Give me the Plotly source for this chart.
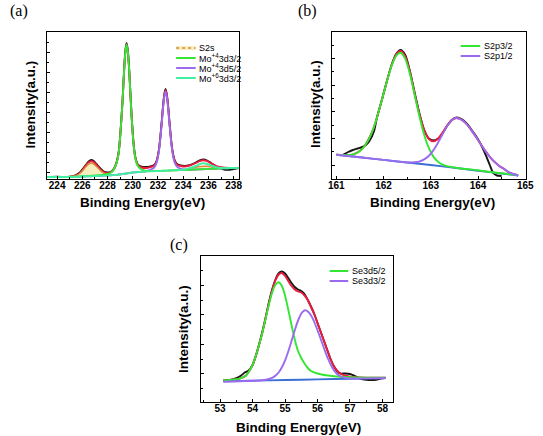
import plotly.graph_objects as go

W, H = 543, 436

# ---------------- Panel (a): Mo 3d / S 2s region ----------------
a_x = [223.2, 224.0, 224.8, 225.2, 225.5, 225.8, 226.0, 226.3, 226.5, 226.7,
       226.9, 227.1, 227.4, 227.7, 228.0, 228.2, 228.4, 228.6, 228.8, 228.9,
       229.0, 229.1, 229.2, 229.3, 229.4, 229.5, 229.6, 229.7, 229.8, 229.9,
       230.0, 230.1, 230.2, 230.4, 230.7, 231.0, 231.2, 231.4, 231.7, 231.9,
       232.0, 232.1, 232.2, 232.3, 232.4, 232.5, 232.6, 232.7, 232.8, 232.9,
       233.0, 233.1, 233.2, 233.3, 233.5, 233.8, 234.1, 234.5, 235.0, 235.3,
       235.6, 235.9, 236.2, 236.6, 237.0, 237.3, 237.7, 238.0, 238.4]
a_background = [2.0, 2.0, 2.0, 2.1, 2.2, 2.4, 2.5, 2.6, 2.7, 2.8,
                2.9, 3.0, 3.2, 3.35, 3.5, 3.7, 3.9, 4.1, 4.3, 4.45,
                4.6, 4.8, 5.0, 5.2, 5.35, 5.5, 5.7, 5.9, 6.1, 6.3,
                6.5, 6.6, 6.7, 6.9, 7.2, 7.5, 7.6, 7.7, 7.85, 7.95,
                8.0, 8.05, 8.1, 8.15, 8.2, 8.25, 8.3, 8.35, 8.4, 8.45,
                8.5, 8.55, 8.6, 8.65, 8.75, 8.9, 9.05, 9.25, 9.5, 9.65,
                9.8, 9.95, 10.1, 10.3, 10.5, 10.65, 10.85, 11.0, 11.0]
a_s2s = [2.0, 2.0, 2.1, 2.4, 3.3, 5.5, 8.0, 12.5, 15.0, 16.0,
         15.0, 12.8, 9.0, 5.8, 4.2, 3.8, 3.9, 4.1, 4.3, 4.45,
         4.6, 4.8, 5.0, 5.2, 5.35, 5.5, 5.7, 5.9, 6.1, 6.3,
         6.5, 6.6, 6.7, 6.9, 7.2, 7.5, 7.6, 7.7, 7.85, 7.95,
         8.0, 8.05, 8.1, 8.15, 8.2, 8.25, 8.3, 8.35, 8.4, 8.45,
         8.5, 8.55, 8.6, 8.65, 8.75, 8.9, 9.4, 10.3, 11.7, 12.4,
         12.8, 12.7, 12.2, 11.3, 10.8, 10.7, 10.85, 11.0, 11.0]
a_mo4_3d32 = [2.0, 2.0, 2.1, 2.2, 2.3, 2.5, 2.7, 2.9, 3.0, 3.2,
              3.4, 3.6, 3.9, 4.3, 5.0, 6.0, 8.0, 12.0, 20.0, 28.0,
              42.0, 60.0, 80.0, 105.0, 125.0, 134.5, 128.0, 112.0, 88.0, 64.0,
              44.5, 30.0, 21.0, 13.0, 9.5, 8.3, 8.0, 7.9, 7.95, 8.0,
              8.05, 8.1, 8.15, 8.2, 8.25, 8.3, 8.35, 8.4, 8.45, 8.5,
              8.55, 8.6, 8.65, 8.7, 8.8, 8.95, 9.1, 9.3, 9.55, 9.7,
              9.85, 10.0, 10.15, 10.35, 10.55, 10.7, 10.9, 11.0, 11.0]
a_mo4_3d52 = [2.0, 2.0, 2.0, 2.1, 2.2, 2.4, 2.5, 2.6, 2.7, 2.8,
              2.9, 3.0, 3.2, 3.35, 3.5, 3.7, 3.9, 4.1, 4.3, 4.45,
              4.6, 4.8, 5.0, 5.2, 5.35, 5.5, 5.7, 5.9, 6.1, 6.3,
              6.5, 6.6, 6.7, 6.9, 7.3, 7.8, 8.4, 9.3, 11.4, 16.5,
              22.0, 30.0, 42.0, 56.0, 71.0, 82.0, 87.3, 82.4, 71.4, 56.5,
              42.5, 30.5, 22.6, 17.2, 12.3, 10.1, 9.4, 9.3, 9.5, 9.65,
              9.8, 9.95, 10.1, 10.3, 10.5, 10.65, 10.85, 11.0, 11.0]
a_mo6_3d32 = [2.0, 2.0, 2.0, 2.1, 2.2, 2.4, 2.5, 2.6, 2.7, 2.8,
              2.9, 3.0, 3.2, 3.35, 3.5, 3.7, 3.9, 4.1, 4.3, 4.45,
              4.6, 4.8, 5.0, 5.2, 5.35, 5.5, 5.7, 5.9, 6.1, 6.3,
              6.5, 6.6, 6.7, 6.9, 7.2, 7.5, 7.6, 7.7, 7.85, 7.95,
              8.0, 8.05, 8.1, 8.15, 8.2, 8.25, 8.3, 8.35, 8.4, 8.45,
              8.5, 8.55, 8.6, 8.65, 8.8, 9.0, 9.5, 10.8, 13.0, 14.8,
              15.8, 15.0, 13.5, 11.8, 11.0, 10.9, 10.95, 11.0, 11.0]
a_envelope = [2.0, 2.0, 2.1, 2.5, 3.5, 5.8, 8.3, 14.0, 16.5, 17.8,
              17.0, 14.5, 9.9, 7.0, 5.9, 6.3, 8.2, 12.2, 20.2, 28.2,
              42.2, 60.2, 80.2, 105.2, 125.2, 134.7, 128.2, 112.2, 88.2, 64.2,
              44.7, 30.2, 21.5, 13.8, 11.5, 11.0, 11.2, 11.8, 13.5, 18.0,
              23.5, 31.5, 43.5, 57.5, 72.5, 83.5, 88.8, 83.8, 72.8, 58.0,
              44.0, 32.0, 24.2, 19.0, 14.3, 13.0, 12.5, 13.5, 16.0, 17.8,
              18.7, 17.8, 15.8, 13.2, 11.8, 11.2, 11.0, 11.0, 11.0]
a_measured = [2.0, 2.3, 2.0, 2.6, 4.0, 6.5, 9.3, 14.5, 17.5, 19.0,
              18.0, 15.3, 11.0, 7.5, 6.5, 6.8, 8.5, 12.5, 21.0, 29.0,
              43.0, 61.0, 81.0, 106.0, 126.5, 136.0, 129.5, 113.0, 89.0, 65.0,
              45.5, 31.0, 22.0, 14.5, 12.3, 12.0, 12.0, 12.5, 14.0, 18.5,
              24.0, 32.0, 44.0, 58.0, 73.0, 84.5, 90.0, 84.5, 73.5, 58.5,
              44.5, 32.5, 24.5, 19.5, 15.0, 13.5, 13.0, 13.8, 16.5, 18.5,
              19.5, 18.5, 16.0, 12.5, 10.5, 9.3, 9.2, 10.0, 11.0]

# ---------------- Panel (b): S 2p region ----------------
b_measured_x = [161.15, 161.25, 161.35, 161.45, 161.55, 161.62, 161.7, 161.8, 161.86, 161.96,
                162.06, 162.16, 162.26, 162.36, 162.46, 162.56, 162.66, 162.76, 162.86, 162.96,
                163.06, 163.16, 163.26, 163.36, 163.46, 163.55, 163.65, 163.75, 163.85, 163.95,
                164.05, 164.15, 164.25, 164.32, 164.4, 164.5]
b_measured = [24.5, 27.0, 29.0, 30.5, 32.0, 33.7, 38.0, 48.0, 61.5, 78.5,
              96.0, 112.5, 124.5, 129.0, 124.0, 107.5, 86.0, 65.5, 49.0, 40.5,
              38.5, 40.5, 46.5, 54.0, 59.5, 61.5, 60.0, 56.0, 50.0, 43.5,
              35.5, 25.5, 14.0, 6.0, 3.5, 3.0]
b_envelope_x = [161.0, 161.36, 161.56, 161.76, 161.86, 161.96, 162.06, 162.16, 162.26, 162.36,
                162.46, 162.56, 162.66, 162.76, 162.86, 162.96, 163.06, 163.16, 163.26, 163.36,
                163.46, 163.55, 163.65, 163.75, 163.85, 163.95, 164.05, 164.15, 164.25, 164.35,
                164.45, 164.55, 164.65, 164.75, 164.85]
b_envelope = [24.3, 24.7, 30.7, 47.4, 61.3, 78.1, 95.9, 112.5, 124.0, 128.0,
              122.5, 107.0, 84.8, 64.9, 49.1, 40.0, 37.6, 40.7, 47.3, 54.5,
              59.7, 61.0, 59.3, 55.3, 49.4, 42.6, 35.4, 28.4, 22.2, 17.1,
              13.1, 10.1, 6.5, 5.0, 3.5]
b_background_x = [161.0, 161.5, 162.0, 162.5, 163.0, 163.5, 164.0, 164.5, 164.85]
b_background = [24.3, 21.7, 19.1, 16.5, 14.0, 11.2, 8.3, 5.5, 3.5]
b_s2p32_x = [161.0, 161.16, 161.26, 161.36, 161.46, 161.56, 161.66, 161.76, 161.86, 161.96,
             162.06, 162.16, 162.26, 162.36, 162.46, 162.56, 162.66, 162.76, 162.86, 162.96,
             163.06, 163.16, 163.26, 163.36, 163.6, 164.0, 164.4, 164.85]
b_s2p32 = [24.3, 23.9, 24.0, 24.7, 26.7, 30.7, 37.4, 47.4, 61.3, 78.1,
           95.9, 111.7, 122.6, 126.2, 120.1, 104.7, 83.8, 62.5, 44.2, 30.9,
           22.1, 16.9, 14.1, 12.6, 10.8, 8.7, 6.2, 4.0]
b_s2p12_x = [161.0, 161.5, 162.0, 162.5, 162.65, 162.75, 162.85, 162.95, 163.05, 163.15,
             163.25, 163.35, 163.45, 163.55, 163.65, 163.75, 163.85, 163.95, 164.05, 164.15,
             164.25, 164.35, 164.45, 164.55, 164.65, 164.75, 164.85]
b_s2p12 = [24.3, 21.7, 19.1, 16.5, 16.7, 17.4, 19.3, 22.8, 28.4, 36.0,
           44.8, 53.2, 59.1, 61.0, 59.3, 55.3, 49.4, 42.6, 35.4, 28.4,
           22.2, 17.1, 13.1, 10.1, 6.8, 5.0, 3.5]

# ---------------- Panel (c): Se 3d region ----------------
c_measured_x = [53.1, 53.3, 53.5, 53.65, 53.77, 53.88, 54.0, 54.1, 54.2, 54.3,
                54.4, 54.5, 54.6, 54.7, 54.8, 54.9, 55.0, 55.1, 55.2, 55.3,
                55.4, 55.5, 55.6, 55.7, 55.8, 55.9, 56.0, 56.1, 56.2, 56.3,
                56.4, 56.5, 56.6, 56.7, 56.85, 57.0, 57.15, 57.3, 57.5, 57.8,
                57.95, 58.1]
c_measured = [21.5, 22.0, 23.8, 26.5, 29.7, 31.5, 37.0, 46.0, 57.5, 70.0,
              84.0, 99.0, 112.0, 122.0, 128.5, 130.5, 128.5, 124.0, 119.0, 115.0,
              112.5, 111.0, 108.0, 102.0, 95.5, 88.0, 79.0, 70.0, 61.0, 52.0,
              43.0, 36.0, 31.0, 28.5, 28.5, 28.0, 26.0, 23.5, 22.3, 22.3,
              23.5, 24.0]
c_envelope_x = [53.1, 53.4, 53.6, 53.8, 53.9, 54.0, 54.1, 54.2, 54.3, 54.4,
                54.5, 54.6, 54.7, 54.8, 54.9, 55.0, 55.1, 55.2, 55.3, 55.4,
                55.5, 55.6, 55.7, 55.8, 55.9, 56.0, 56.1, 56.2, 56.3, 56.4,
                56.5, 56.6, 56.7, 56.8, 57.0, 57.5, 58.1]
c_envelope = [21.7, 22.4, 23.4, 26.5, 31.0, 37.0, 46.0, 57.0, 69.0, 83.5,
              98.2, 111.3, 121.3, 127.3, 129.0, 126.1, 120.9, 116.0, 112.5, 110.5,
              109.5, 106.5, 102.0, 95.0, 88.0, 79.0, 70.0, 61.0, 52.0, 43.0,
              36.0, 31.5, 28.5, 27.0, 25.3, 24.4, 24.2]
c_background_x = [53.1, 54.0, 55.0, 56.0, 57.0, 58.1]
c_background = [20.7, 21.3, 21.95, 22.6, 23.3, 24.0]
c_se3d52_x = [53.1, 53.4, 53.6, 53.8, 53.9, 54.0, 54.1, 54.2, 54.3, 54.4,
              54.5, 54.6, 54.7, 54.8, 54.9, 55.0, 55.1, 55.2, 55.3, 55.4,
              55.5, 55.6, 55.7, 55.8, 56.0, 56.2, 56.5, 57.0, 57.5, 58.1]
c_se3d52 = [21.7, 22.4, 23.4, 26.5, 31.0, 37.0, 46.0, 57.0, 69.0, 83.0,
            97.0, 109.0, 117.0, 119.7, 116.3, 106.6, 92.4, 77.0, 62.5, 51.0,
            44.0, 38.5, 34.0, 31.0, 28.5, 27.0, 25.8, 24.8, 24.4, 24.2]
c_se3d32_x = [53.1, 53.6, 54.0, 54.22, 54.42, 54.62, 54.72, 54.82, 54.92, 55.02,
              55.12, 55.22, 55.32, 55.42, 55.52, 55.62, 55.72, 55.82, 55.92, 56.02,
              56.12, 56.22, 56.32, 56.42, 56.52, 56.62, 56.72, 56.82, 57.02, 57.5,
              58.1]
c_se3d32 = [20.3, 20.8, 21.2, 21.5, 22.2, 24.3, 26.7, 30.3, 35.8, 43.2,
            52.5, 63.1, 73.8, 83.0, 89.4, 91.7, 90.0, 85.5, 78.5, 70.0,
            61.0, 52.0, 43.5, 36.5, 31.0, 27.5, 25.5, 24.3, 23.6, 23.6,
            24.0]

# ---------------- Styling ----------------
BLACK = "#161616"
RED = "#ec1c3e"
GREEN = "#33e633"
PURPLE = "#9b6bef"
AQUA = "#3ff0a2"
BLUE = "#3a6fd6"
ORANGE = "#d98a3c"
YELLOW = "#f7eec0"
LW = 1.9
SANS = "Liberation Sans, Arial, sans-serif"
SERIF = "Liberation Serif, Times New Roman, serif"


def px(xp):
    return xp / W


def py(yp):
    return 1 - yp / H


def line_trace(x, y, color, xa, ya, width=LW, **kw):
    return go.Scatter(x=x, y=y, mode="lines", xaxis=xa, yaxis=ya,
                      line=dict(color=color, width=width, shape="spline", smoothing=0.7),
                      showlegend=False, hoverinfo="skip", **kw)


fig = go.Figure()

# panel (a)
fig.add_trace(line_trace(a_x, a_measured, BLACK, "x", "y"))
fig.add_trace(line_trace(a_x, a_envelope, RED, "x", "y"))
fig.add_trace(line_trace(a_x, a_background, "rgba(0,0,0,0)", "x", "y", width=0))
fig.add_trace(line_trace(a_x, a_s2s, ORANGE, "x", "y", width=1.5,
                         fill="tonexty", fillcolor=YELLOW))
fig.add_trace(line_trace(a_x, a_mo4_3d52, PURPLE, "x", "y"))
fig.add_trace(line_trace(a_x, a_mo4_3d32, GREEN, "x", "y"))
fig.add_trace(line_trace(a_x, a_mo6_3d32, AQUA, "x", "y"))

# panel (b)
fig.add_trace(line_trace(b_measured_x, b_measured, BLACK, "x2", "y2"))
fig.add_trace(line_trace(b_envelope_x, b_envelope, RED, "x2", "y2"))
fig.add_trace(line_trace(b_background_x, b_background, BLUE, "x2", "y2"))
fig.add_trace(line_trace(b_s2p32_x, b_s2p32, GREEN, "x2", "y2"))
fig.add_trace(line_trace(b_s2p12_x, b_s2p12, PURPLE, "x2", "y2"))

# panel (c)
fig.add_trace(line_trace(c_measured_x, c_measured, BLACK, "x3", "y3"))
fig.add_trace(line_trace(c_envelope_x, c_envelope, RED, "x3", "y3"))
fig.add_trace(line_trace(c_background_x, c_background, BLUE, "x3", "y3"))
fig.add_trace(line_trace(c_se3d52_x, c_se3d52, GREEN, "x3", "y3"))
fig.add_trace(line_trace(c_se3d32_x, c_se3d32, PURPLE, "x3", "y3"))

tickfont = dict(family=SANS, size=10, color="black", weight="bold")
base_axis = dict(showline=True, linecolor="black", linewidth=1, mirror=True,
                 ticks="inside", ticklen=3, tickwidth=1, tickcolor="black",
                 showgrid=False, zeroline=False, fixedrange=True)


def xaxis(domain, rng, tick0, dtick, minor_dtick, anchor):
    d = dict(base_axis)
    d.update(domain=domain, range=rng, tickmode="linear", tick0=tick0, dtick=dtick,
             tickfont=tickfont, anchor=anchor, ticklabelstandoff=-3,
             minor=dict(ticks="inside", ticklen=2, tickcolor="black", dtick=minor_dtick, tick0=tick0))
    return d


def yaxis(domain, rng, tick0, dtick, minor_dtick, anchor):
    d = dict(base_axis)
    d.update(domain=domain, range=rng, tickmode="linear", tick0=tick0, dtick=dtick,
             showticklabels=False, anchor=anchor,
             minor=dict(ticks="inside", ticklen=2, tickcolor="black", dtick=minor_dtick, tick0=tick0))
    return d


A_X = [px(44), px(240)]
A_Y = [py(179), py(32)]
B_X = [px(335), px(534)]
B_Y = [py(179), py(32)]
C_X = [px(201), px(398)]
C_Y = [py(402), py(256)]

fig.update_layout(
    width=W, height=H,
    margin=dict(l=0, r=0, t=0, b=0),
    paper_bgcolor="white", plot_bgcolor="white",
    showlegend=False,
    xaxis=xaxis(A_X, [223.2, 238.4], 224, 2, 1, "y"),
    yaxis=yaxis(A_Y, [0, 147], 7, 20, 10, "x"),
    xaxis2=xaxis(B_X, [160.9, 165.02], 161, 1, 0.5, "y2"),
    yaxis2=yaxis(B_Y, [0, 147], 13.7, 26.7, 13.35, "x2"),
    xaxis3=xaxis(C_X, [52.4, 58.33], 53, 1, 0.5, "y3"),
    yaxis3=yaxis(C_Y, [0, 146], 28.3, 29.4, 14.7, "x3"),
)

annotations = []
title_font = dict(family=SANS, size=13.5, color="black", weight="bold")


def add_text(x, y, text, font, angle=0, xanchor="center", yanchor="middle"):
    annotations.append(dict(x=x, y=y, xref="paper", yref="paper", text=text, showarrow=False,
                            font=font, textangle=angle, xanchor=xanchor, yanchor=yanchor))


# axis titles
add_text(px(142), py(202), "Binding Energy(eV)", title_font)
add_text(px(27), py(104), "Intensity(a.u.)", title_font, angle=-90)
add_text(px(438), py(202), "Binding Energy(eV)", title_font)
add_text(px(318), py(104), "Intensity(a.u.)", title_font, angle=-90)
add_text(px(301), py(427), "Binding Energy(eV)", title_font)
add_text(px(183), py(329), "Intensity(a.u.)", title_font, angle=-90)

# panel labels
panel_font = dict(family=SERIF, size=16, color="black")
add_text(px(15), py(11), "(a)", panel_font)
add_text(px(310), py(11), "(b)", panel_font)
add_text(px(179), py(245), "(c)", panel_font)

# legends (drawn as short line samples + labels)
shapes = []
leg_font = dict(family=SANS, size=9, color="black")


def legend_entry(x0, x1, yrow, color, label, dotted=False):
    if dotted:
        shapes.append(dict(type="line", xref="paper", yref="paper", x0=px(x0), x1=px(x1),
                           y0=py(yrow), y1=py(yrow), line=dict(color=YELLOW, width=4)))
        shapes.append(dict(type="line", xref="paper", yref="paper", x0=px(x0), x1=px(x1),
                           y0=py(yrow), y1=py(yrow), line=dict(color=color, width=1.5, dash="dot")))
    else:
        shapes.append(dict(type="line", xref="paper", yref="paper", x0=px(x0), x1=px(x1),
                           y0=py(yrow), y1=py(yrow), line=dict(color=color, width=2)))
    add_text(px(x1 + 1.5), py(yrow), label, leg_font, xanchor="left")


legend_entry(176, 196, 48, ORANGE, "S2s", dotted=True)
legend_entry(176, 196, 58, GREEN, "Mo<sup>+4</sup>3d3/2")
legend_entry(176, 196, 68, PURPLE, "Mo<sup>+4</sup>3d5/2")
legend_entry(176, 196, 78, AQUA, "Mo<sup>+6</sup>3d3/2")

legend_entry(467, 487, 46, GREEN, "S2p3/2")
legend_entry(467, 487, 56, PURPLE, "S2p1/2")

legend_entry(333, 352, 271, GREEN, "Se3d5/2")
legend_entry(333, 352, 281, PURPLE, "Se3d3/2")

fig.update_layout(annotations=annotations, shapes=shapes)

fig.write_html("out.html",
               config={"displayModeBar": False, "staticPlot": True},
               post_script="document.body.style.margin='0px';document.body.style.overflow='hidden';")
